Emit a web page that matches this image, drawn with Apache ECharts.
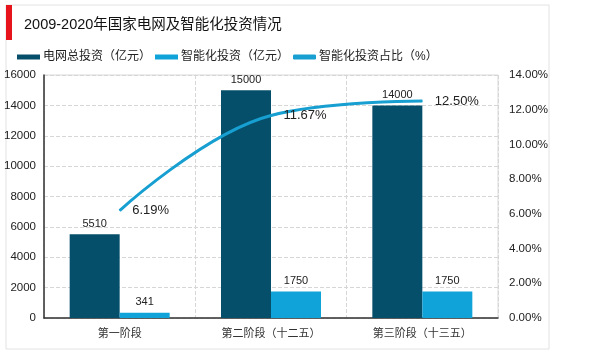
<!DOCTYPE html>
<html>
<head>
<meta charset="utf-8">
<script src="https://cdn.jsdelivr.net/npm/echarts@6/dist/echarts.min.js"></script>
<style>
  html, body { margin: 0; padding: 0; background: #fff; }
  #main { width: 600px; height: 354px; }
</style>
</head>
<body>
<div id="main"></div>
<script>
// 数据
var categories = ['第一阶段', '第二阶段（十二五）', '第三阶段（十三五）'];
var totalInvest = [5510, 15000, 14000];
var smartInvest = [341, 1750, 1750];
var smartRatio = [0.0619, 0.1167, 0.125];
var leftTicks = { min: 0, max: 16000, interval: 2000 };
var rightTicks = { min: 0, max: 0.14, interval: 0.02 };

var font = '"Liberation Sans", "Noto Sans CJK SC", sans-serif';
var chart = echarts.init(document.getElementById('main'));

var option = {
    backgroundColor: '#fff',
    animation: false,
    textStyle: { fontFamily: font },
    graphic: [
        {
            type: 'rect',
            shape: { x: 6, y: 5, width: 543, height: 344 },
            style: { fill: 'none', stroke: '#e2e2e2', lineWidth: 1 },
            z: -1
        },
        {
            type: 'rect',
            shape: { x: 6, y: 5, width: 6, height: 35 },
            style: { fill: '#e8141b' }
        },
        {
            type: 'text',
            left: 24,
            top: 18,
            style: {
                text: '2009-2020年国家电网及智能化投资情况',
                fontSize: 14.5,
                fontFamily: font,
                fill: '#111'
            }
        }
    ],
    legend: {
        left: 12,
        top: 46,
        itemWidth: 23,
        itemHeight: 5,
        itemGap: 4,
        textStyle: { fontSize: 12, color: '#222', padding: [0, 0, 0, -2] },
        data: [
            { name: '电网总投资（亿元）', icon: 'rect' },
            { name: '智能化投资（亿元）', icon: 'rect' },
            { name: '智能化投资占比（%）', icon: 'roundRect' }
        ]
    },
    grid: {
        left: 44,
        right: 102,
        top: 75,
        bottom: 36,
        show: true,
        borderColor: '#d8d8d8',
        borderWidth: 1
    },
    xAxis: {
        type: 'category',
        data: categories,
        axisTick: { show: false },
        axisLine: { lineStyle: { color: '#333', width: 1.5 } },
        axisLabel: { color: '#333', fontSize: 11, margin: 10 },
        splitLine: {
            show: true,
            lineStyle: { color: '#d6d6d6', type: 'dashed' }
        }
    },
    yAxis: [
        {
            type: 'value',
            min: leftTicks.min,
            max: leftTicks.max,
            interval: leftTicks.interval,
            axisLine: { show: true, lineStyle: { color: '#333', width: 1.5 } },
            axisTick: { show: false },
            axisLabel: {
                color: '#222',
                fontSize: 11.5,
                margin: 8,
                formatter: function (v) { return String(v); }
            },
            splitLine: { lineStyle: { color: '#d6d6d6', type: 'dashed' } }
        },
        {
            type: 'value',
            min: rightTicks.min,
            max: rightTicks.max,
            interval: rightTicks.interval,
            axisLine: { show: false },
            axisTick: { show: false },
            splitLine: { show: false },
            axisLabel: {
                color: '#222',
                fontSize: 11.5,
                margin: 11,
                formatter: function (v) { return (v * 100).toFixed(2) + '%'; }
            }
        }
    ],
    series: [
        {
            name: '电网总投资（亿元）',
            type: 'bar',
            data: totalInvest,
            barWidth: 50,
            barGap: '0%',
            itemStyle: { color: '#064f6a' },
            label: { show: true, position: 'top', color: '#222', fontSize: 11 }
        },
        {
            name: '智能化投资（亿元）',
            type: 'bar',
            data: smartInvest,
            barWidth: 50,
            itemStyle: { color: '#0fa3d9' },
            label: { show: true, position: 'top', color: '#222', fontSize: 11 }
        },
        {
            name: '智能化投资占比（%）',
            type: 'line',
            yAxisIndex: 1,
            data: smartRatio,
            smooth: 0.4,
            showSymbol: true,
            symbol: 'circle',
            symbolSize: 1,
            lineStyle: { color: '#169fd0', width: 3 },
            itemStyle: { color: '#169fd0' },
            label: {
                show: true,
                position: 'right',
                distance: 12,
                color: '#222',
                fontSize: 13,
                formatter: function (p) { return (p.value * 100).toFixed(2) + '%'; }
            },
            z: 5
        }
    ]
};

chart.setOption(option);
window.addEventListener('resize', function () {
    chart.resize();
});
</script>
</body>
</html>
